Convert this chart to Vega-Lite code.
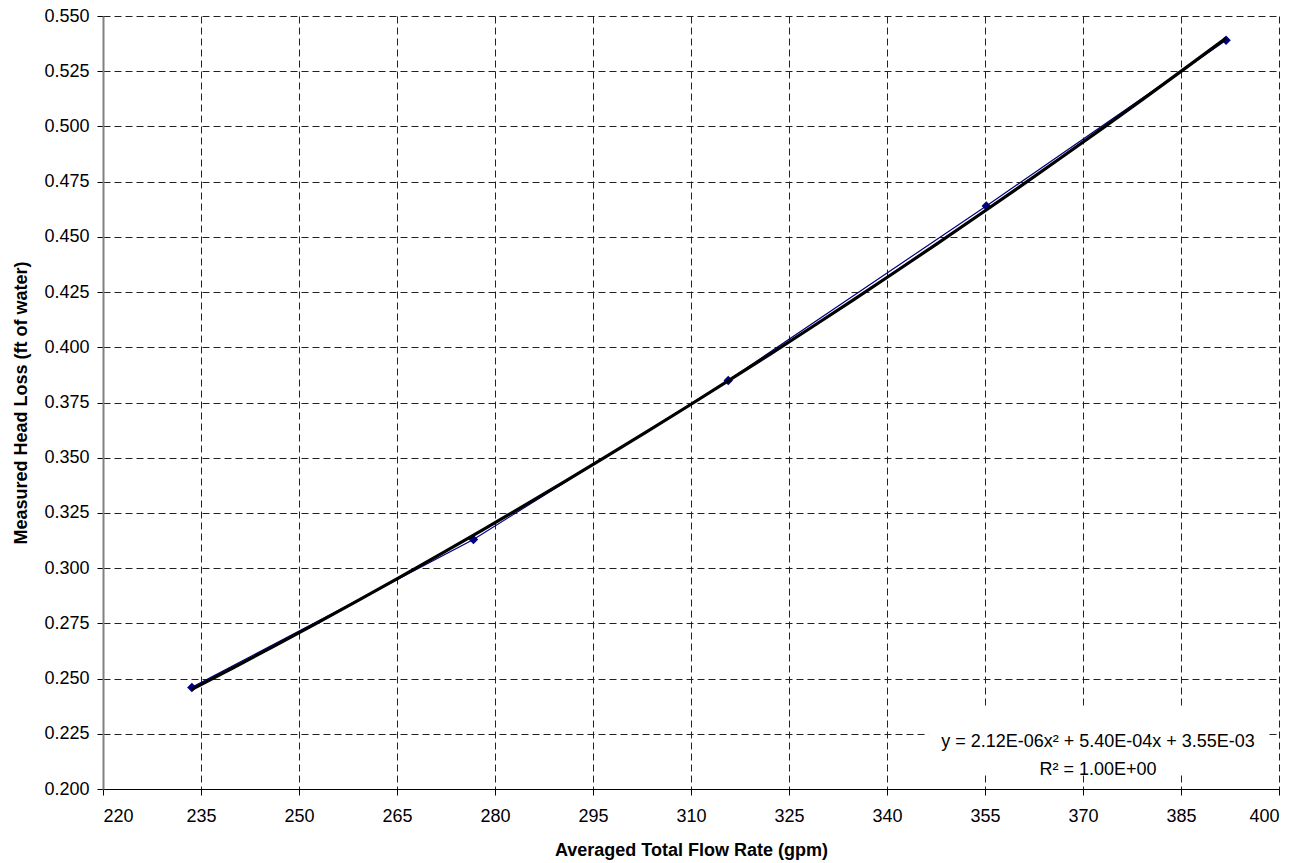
{
  "$schema": "https://vega.github.io/schema/vega-lite/v6.json",
  "width": 1176,
  "height": 773,
  "autosize": "none",
  "padding": {"left": 103, "top": 16, "right": 32, "bottom": 74},
  "background": "white",
  "config": {
    "view": {"stroke": null},
    "font": "Liberation Sans",
    "axis": {
      "labelFont": "Liberation Sans",
      "titleFont": "Liberation Sans",
      "labelFontSize": 18,
      "titleFontSize": 18,
      "titleFontWeight": "bold",
      "labelColor": "#000000",
      "titleColor": "#000000",
      "tickColor": "#000000",
      "tickSize": 6,
      "grid": true,
      "gridColor": "#222222",
      "gridWidth": 1,
      "gridDash": [7, 4]
    }
  },
  "data": {
    "values": [
      {"flow": 233.6, "head": 0.246},
      {"flow": 276.7, "head": 0.313},
      {"flow": 315.7, "head": 0.385},
      {"flow": 355.2, "head": 0.464},
      {"flow": 391.9, "head": 0.539}
    ]
  },
  "encoding": {
    "x": {
      "field": "flow",
      "type": "quantitative",
      "scale": {"domain": [220, 400], "nice": false, "zero": false},
      "axis": {
        "title": "Averaged Total Flow Rate (gpm)",
        "values": [220, 235, 250, 265, 280, 295, 310, 325, 340, 355, 370, 385, 400],
        "domainColor": "#000000",
        "domainWidth": 1,
        "labelPadding": 12,
        "titlePadding": 16
      }
    },
    "y": {
      "field": "head",
      "type": "quantitative",
      "scale": {"domain": [0.2, 0.55], "nice": false, "zero": false},
      "axis": {
        "title": "Measured Head Loss (ft of water)",
        "values": [0.2, 0.225, 0.25, 0.275, 0.3, 0.325, 0.35, 0.375, 0.4, 0.425, 0.45, 0.475, 0.5, 0.525, 0.55],
        "format": ".3f",
        "domainColor": "#808080",
        "domainWidth": 2,
        "labelPadding": 8,
        "titlePadding": 13
      }
    }
  },
  "layer": [
    {
      "transform": [{"filter": {"field": "flow", "gt": 390}}],
      "mark": {"type": "rect", "fill": "white", "stroke": null},
      "encoding": {
        "x": {"datum": 346.3, "type": "quantitative", "title": "Averaged Total Flow Rate (gpm)"},
        "x2": {"datum": 398.3},
        "y": {"datum": 0.2371, "type": "quantitative", "title": "Measured Head Loss (ft of water)"},
        "y2": {"datum": 0.2063}
      }
    },
    {
      "mark": {"type": "line", "color": "#000080", "strokeWidth": 1.2}
    },
    {
      "mark": {"type": "point", "shape": "diamond", "filled": true, "color": "#000080", "size": 90, "opacity": 1}
    },
    {
      "transform": [
        {"regression": "head", "on": "flow", "method": "poly", "order": 2}
      ],
      "mark": {"type": "line", "color": "#000000", "strokeWidth": 3.2}
    },
    {
      "transform": [{"filter": {"field": "flow", "gt": 390}}],
      "mark": {
        "type": "text",
        "text": ["y = 2.12E-06x² + 5.40E-04x + 3.55E-03", "R² = 1.00E+00"],
        "font": "Liberation Sans",
        "fontSize": 18,
        "fontWeight": "normal",
        "lineHeight": 28,
        "align": "center",
        "baseline": "middle",
        "color": "#000000"
      },
      "encoding": {
        "x": {"datum": 372.3, "type": "quantitative", "title": "Averaged Total Flow Rate (gpm)"},
        "y": {"datum": 0.2212, "type": "quantitative", "title": "Measured Head Loss (ft of water)"}
      }
    }
  ]
}
